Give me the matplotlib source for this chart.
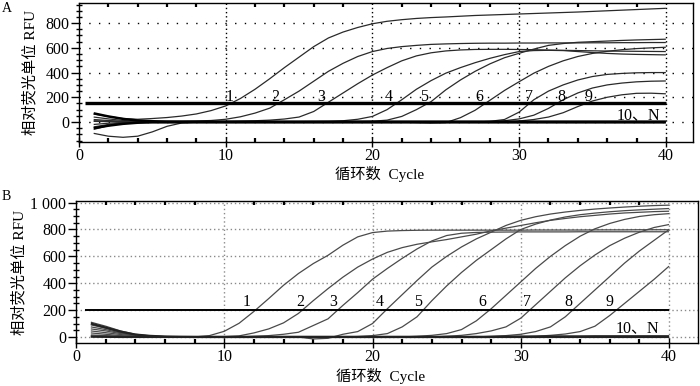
import matplotlib

matplotlib.use("Agg")
import matplotlib.pyplot as plt
from matplotlib.ticker import MultipleLocator

plt.rcParams["font.family"] = ["Liberation Serif", "Noto Sans CJK SC"]
plt.rcParams["lines.solid_capstyle"] = "butt"

cycles = list(range(1, 41))

# panel A: RFU per cycle, dilutions 1-9 plus 10 and negative control
a_1 = [65, 45, 28, 22, 28, 36, 48, 65, 92, 130, 190, 265, 350, 440, 525, 610, 680, 728, 765, 795,
       815, 828, 838, 845, 850, 856, 862, 866, 870, 874, 878, 882, 886, 890, 895, 900, 905, 910, 915, 920]
a_2 = [-40, -20, -5, 0, 2, 4, 6, 8, 12, 22, 42, 72, 112, 180, 250, 330, 410, 475, 530, 570,
       595, 610, 620, 628, 632, 635, 637, 638, 638, 639, 639, 640, 640, 640, 641, 641, 642, 642, 643, 643]
a_3 = [20, 12, 6, 3, 2, 2, 3, 3, 4, 5, 7, 10, 15, 24, 40, 85, 160, 235, 310, 380,
       440, 495, 535, 560, 575, 583, 587, 588, 588, 587, 585, 582, 580, 578, 576, 574, 573, 572, 571, 570]
a_4 = [-92, -115, -124, -115, -80, -35, -8, -2, 0, 1, 1, 2, 2, 3, 3, 4, 5, 10, 22, 45,
       100, 180, 265, 335, 395, 440, 480, 515, 545, 570, 578, 580, 578, 570, 562, 555, 550, 547, 545, 543]
a_5 = [10, 6, 3, 1, 0, 0, 0, 0, 0, 0, 0, 0, 0, 1, 1, 1, 2, 3, 4, 6,
       15, 45, 100, 165, 260, 340, 410, 470, 520, 556, 590, 620, 635, 645, 650, 655, 660, 664, 667, 670]
a_6 = [-20, -10, -4, -1, 0, 0, 0, 0, 0, 0, 0, 0, 0, 0, 0, 0, 0, 0, 0, 0,
       0, -2, -5, -8, -5, 35, 95, 175, 255, 326, 395, 450, 495, 530, 555, 572, 585, 594, 600, 605]
a_7 = [40, 25, 12, 5, 2, 1, 0, 0, 0, 0, 0, 0, 0, 0, 0, 0, 0, 0, 0, 0,
       0, 0, 0, 0, 0, 0, 0, 5, 20, 80, 180, 250, 300, 340, 368, 385, 393, 398, 400, 400]
a_8 = [-60, -30, -12, -4, -1, 0, 0, 0, 0, 0, 0, 0, 0, 0, 0, 0, 0, 0, 0, 0,
       0, 0, 0, 0, 0, 0, 0, 0, 10, 25, 55, 110, 180, 235, 275, 300, 315, 325, 330, 332]
a_9 = [5, 3, 1, 0, 0, 0, 0, 0, 0, 0, 0, 0, 0, 0, 0, 0, 0, 0, 0, 0,
       0, 0, 0, 0, 0, 0, 0, 0, 0, 8, 20, 40, 75, 125, 170, 200, 220, 232, 233, 228]
a_10 = [70, 45, 25, 12, 6, 4, 3, 3, 3, 3, 3, 3, 3, 3, 3, 3, 3, 3, 3, 3,
        3, 3, 3, 3, 3, 3, 3, 3, 3, 3, 3, 3, 3, 3, 3, 3, 3, 3, 3, 3]
a_n = [-50, -30, -15, -6, -3, -3, -3, -3, -3, -3, -3, -3, -3, -3, -3, -3, -3, -3, -3, -3,
       -3, -3, -3, -3, -3, -3, -3, -3, -3, -3, -3, -3, -3, -3, -3, -3, -3, -3, -3, -3]
a_threshold = 154

# panel B
b_1 = [110, 80, 45, 20, 8, 3, 0, 0, 10, 42, 102, 190, 286, 385, 472, 546, 608, 683, 745, 777,
       788, 792, 794, 795, 795, 795, 795, 795, 795, 795, 796, 796, 796, 796, 797, 797, 797, 798, 798, 798]
b_2 = [90, 65, 35, 15, 5, 2, 0, 0, 0, 2, 8, 30, 60, 105, 175, 270, 360, 445, 520, 580,
       630, 665, 690, 708, 725, 745, 765, 790, 810, 830, 850, 868, 882, 895, 905, 915, 923, 928, 933, 936]
b_3 = [75, 55, 30, 12, 5, 2, 0, 0, 0, 0, 0, 5, 10, 20, 35, 85, 135, 235, 330, 430,
       510, 585, 655, 715, 755, 772, 778, 780, 781, 782, 782, 782, 782, 783, 783, 783, 783, 783, 783, 783]
b_4 = [60, 45, 25, 10, 3, 0, 0, 0, 0, 0, 0, 0, 0, 0, 0, -15, -10, 20, 40, 100,
       210, 315, 420, 520, 600, 670, 730, 780, 830, 868, 895, 915, 930, 942, 952, 960, 967, 973, 978, 981]
b_5 = [45, 32, 18, 8, 2, 0, 0, 0, 0, 0, 0, 0, 0, 0, 0, 0, 0, 0, 3, 10,
       25, 75, 150, 270, 380, 480, 570, 650, 730, 800, 840, 870, 893, 910, 922, 932, 940, 946, 951, 956]
b_6 = [30, 20, 10, 4, 0, 0, 0, 0, 0, 0, 0, 0, 0, 0, 0, 0, 0, 0, 0, 0,
       0, 0, 5, 12, 25, 55, 120, 210, 310, 410, 510, 600, 680, 750, 805, 845, 875, 897, 910, 918]
b_7 = [15, 10, 5, 2, 0, 0, 0, 0, 0, 0, 0, 0, 0, 0, 0, 0, 0, 0, 0, 0,
       0, 0, 0, 0, 5, 12, 25, 45, 75, 140, 240, 340, 440, 530, 610, 680, 735, 780, 815, 837]
b_8 = [8, 5, 2, 0, 0, 0, 0, 0, 0, 0, 0, 0, 0, 0, 0, 0, 0, 0, 0, 0,
       0, 0, 0, 0, 0, 0, 0, 5, 10, 20, 40, 75, 150, 250, 350, 450, 550, 640, 720, 800]
b_9 = [3, 2, 1, 0, 0, 0, 0, 0, 0, 0, 0, 0, 0, 0, 0, 0, 0, 0, 0, 0,
       0, 0, 0, 0, 0, 0, 0, 0, 0, 0, 5, 12, 22, 40, 80, 160, 250, 340, 430, 527]
b_10 = [100, 70, 40, 18, 8, 3, 1, 0, 0, 0, 0, 0, 0, 0, 0, 0, 0, 0, 0, 0,
        0, 0, 0, 0, 0, 0, 0, 0, 2, 3, 3, 4, 4, 4, 5, 5, 5, 5, 5, 5]
b_n = [2, 1, 0, 0, 0, 0, 0, 0, 0, 0, 0, 0, 0, 0, 0, 0, 0, 0, 0, 0,
       0, 0, 0, 0, 0, 0, 0, 0, 0, 0, 0, 0, 0, 0, 0, 0, 0, 0, 0, 0]
b_threshold = 200

curve_labels = ["1", "2", "3", "4", "5", "6", "7", "8", "9"]
a_label_x = [10.3, 13.4, 16.5, 21.1, 23.5, 27.3, 30.7, 32.9, 34.7]
b_label_x = [11.5, 15.1, 17.35, 20.5, 23.1, 27.4, 30.4, 33.2, 36.0]
neg_label = "10、N"

b_yticks = [0, 200, 400, 600, 800, 1000]
b_yticklabels = ["0", "200", "400", "600", "800", "1 000"]

FS = 11.5


def style(ax, grid_color, grid_dash_h, grid_dash_v):
    ax.set_xticks([0, 10, 20, 30, 40])
    ax.xaxis.set_minor_locator(MultipleLocator(2))
    ax.yaxis.set_minor_locator(MultipleLocator(50))
    ax.tick_params(axis="x", which="major", direction="inout", length=7, width=1, labelsize=FS, pad=1)
    ax.tick_params(axis="x", which="minor", direction="in", length=3, width=1.6, top=True)
    ax.tick_params(axis="y", which="major", direction="out", length=6, width=1, labelsize=FS, pad=1)
    ax.tick_params(axis="y", which="minor", direction="inout", length=5, width=1)
    for sp in ax.spines.values():
        sp.set_linewidth(1.0)
    for y in ax.get_yticks():
        ax.axhline(y, color=grid_color, lw=1.0, ls=(0, grid_dash_h), zorder=0)
    for x in [10, 20, 30, 40]:
        ax.axvline(x, color=grid_color, lw=1.0, ls=(0, grid_dash_v), zorder=0)


fig = plt.figure(figsize=(7, 3.86), dpi=100)

# ---- A ----
ax = fig.add_axes([79 / 700, 1 - 142 / 386, 614 / 700, 139 / 386])
for ys in [a_1, a_2, a_3, a_4, a_5, a_6, a_7, a_8, a_9]:
    ax.plot(cycles, ys, color="#2a2a2a", lw=0.9, zorder=3)
for ys in [a_10, a_n]:
    ax.plot(cycles, ys, color="black", lw=1.8, zorder=3)
ax.hlines(a_threshold, 0.4, 40, color="black", lw=2.4, zorder=4)
for lab, x in zip(curve_labels, a_label_x):
    ax.text(x, a_threshold + 50, lab, fontsize=FS, ha="center", va="center", zorder=5)
ax.text(38.1, 57, neg_label, fontsize=FS, ha="center", va="center", zorder=5)
ax.set_xlim(0, 41.85)
ax.set_ylim(-162, 963)
ax.set_yticks([0, 200, 400, 600, 800])
style(ax, "black", (1, 6), (1, 2))
ax.set_ylabel("相对荧光单位 RFU", fontsize=11)
ax.yaxis.set_label_coords(-0.068, 0.5)
ax.set_xlabel("循环数  Cycle", fontsize=11)
ax.xaxis.set_label_coords(0.49, -0.175)
fig.text(7 / 700, 1 - 9 / 386, "A", fontsize=10, ha="center", va="center")

# ---- B ----
ax = fig.add_axes([76 / 700, 1 - 343 / 386, 622 / 700, 142 / 386])
for ys in [b_1, b_2, b_3, b_4, b_5, b_6, b_7, b_8, b_9]:
    ax.plot(cycles, ys, color="#4a4a4a", lw=0.9, zorder=3)
for ys in [b_10, b_n]:
    ax.plot(cycles, ys, color="#222222", lw=1.6, zorder=3)
ax.hlines(b_threshold, 0.6, 40, color="black", lw=1.4, zorder=4)
for lab, x in zip(curve_labels, b_label_x):
    ax.text(x, b_threshold + 60, lab, fontsize=FS, ha="center", va="center", zorder=5)
ax.text(37.9, 63, neg_label, fontsize=FS, ha="center", va="center", zorder=5)
ax.set_xlim(0, 41.95)
ax.set_ylim(-45, 1012)
ax.set_yticks(b_yticks, b_yticklabels)
style(ax, "#8a8a8a", (1, 2), (1, 2))
ax.set_ylabel("相对荧光单位 RFU", fontsize=11)
ax.yaxis.set_label_coords(-0.08, 0.5)
ax.set_xlabel("循环数  Cycle", fontsize=11)
ax.xaxis.set_label_coords(0.49, -0.175)
fig.text(6 / 700, 1 - 197 / 386, "B", fontsize=10, ha="center", va="center")

fig.savefig("out.png", dpi=100)
